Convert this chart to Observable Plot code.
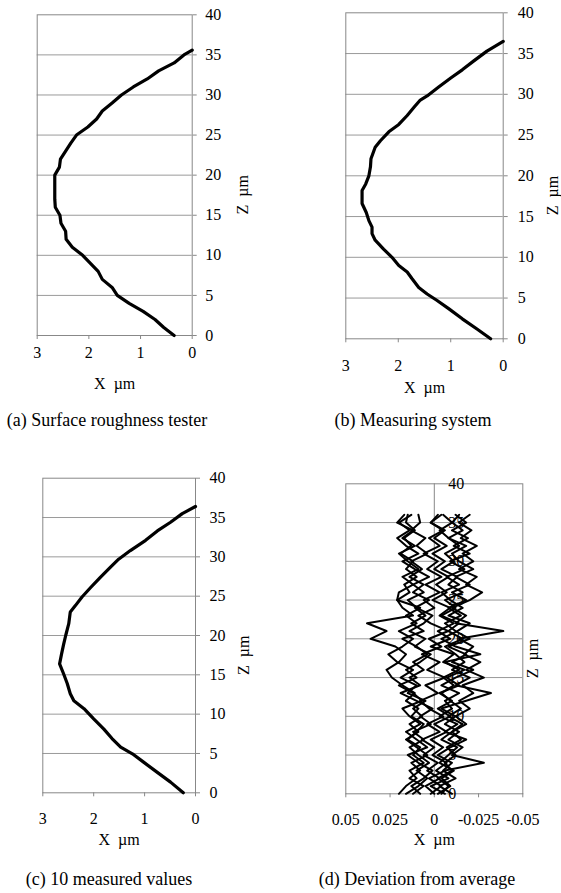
<!DOCTYPE html>
<html><head><meta charset="utf-8">
<script src="https://cdn.jsdelivr.net/npm/d3@7"></script>
<script src="https://cdn.jsdelivr.net/npm/@observablehq/plot@0.6"></script>
<style>
html,body{margin:0;padding:0;background:#fff;overflow:hidden}
#page{position:relative;width:561px;height:893px;background:#fff;font-family:"Liberation Serif",serif}
#page svg{position:absolute;left:0;top:0}
#page svg text{font-family:"Liberation Serif",serif}
.cap{position:absolute;font-size:18px;line-height:18px;white-space:nowrap;transform:translateX(-50%);color:#000}
</style></head><body><div id="page"></div>
<script>
// ---- data ----
const zTicks = [0,5,10,15,20,25,30,35,40];
const zGrid = [5,10,15,20,25,30,35];
const xTicksABC = [3,2,1,0];
const xTicksD = [0.05,0.025,0,-0.025,-0.05];
const captions = ["(a) Surface roughness tester","(b) Measuring system","(c) 10 measured values","(d) Deviation from average"];
const zLabel = "Z\u00a0\u00a0µm";
const xLabel = "X\u00a0\u00a0µm";

// (a) Surface roughness tester
const aZ = [0,1,2,3,4,5,6,7,8,9,10,11,12,13,14,15,16,17,18,19,20,21,22,23,24,25,26,27,28,29,30,31,32,33,34,35,35.6];
const aX = [0.35,0.55,0.72,0.95,1.22,1.45,1.55,1.74,1.82,1.97,2.12,2.32,2.44,2.45,2.54,2.56,2.65,2.66,2.66,2.66,2.66,2.57,2.55,2.45,2.35,2.24,2.02,1.85,1.74,1.55,1.37,1.14,0.87,0.65,0.35,0.16,0];
// (b) Measuring system
const bZ = [0,1.2,2.45,3.7,4.7,5.5,6.3,7.4,8.2,9,10,11,12.1,12.9,13.7,14.5,15.5,16.6,18.2,19,20,21.1,22.1,23.5,24.3,25.4,26.3,27.4,28.4,29.3,29.8,30.9,32,33,34.1,35.3,36.5];
const bX = [0.24,0.5,0.78,1.04,1.26,1.45,1.61,1.74,1.83,1.99,2.12,2.28,2.44,2.5,2.5,2.56,2.61,2.69,2.69,2.62,2.56,2.53,2.52,2.44,2.34,2.18,1.99,1.83,1.7,1.58,1.45,1.23,1.0,0.78,0.56,0.31,0];
// (c) 10 measured values
const cZ = [0,1.36,2.6,3.9,4.96,5.8,6.9,8.1,9.4,10.7,11.7,12.6,13.9,15.1,16.4,17.7,18.9,20,21.5,23,23.8,24.9,26.1,27.4,28.7,29.7,30.8,32.1,33.3,34.4,35.5,36.4];
const cX = [0.24,0.49,0.75,1.02,1.24,1.47,1.64,1.8,2.0,2.19,2.39,2.46,2.52,2.59,2.67,2.63,2.59,2.55,2.49,2.46,2.36,2.23,2.06,1.87,1.67,1.51,1.28,0.98,0.75,0.49,0.26,0];
// (d) Deviation from average, 10 measurements
const devZ = [0,1,2,3,4,5,6,7,8,9,10,11,12,13,14,15,16,17,18,19,20,21,22,23,24,25,26,27,28,29,30,31,32,33,34,35,36];
const dev1 = [-0.004,-0.008,-0.002,-0.010,-0.006,-0.012,-0.007,-0.015,-0.010,-0.018,-0.012,-0.020,-0.014,-0.022,-0.016,-0.028,-0.018,-0.026,-0.017,-0.022,-0.014,-0.039,-0.012,-0.018,-0.010,-0.020,-0.027,-0.018,-0.024,-0.014,-0.022,-0.016,-0.024,-0.015,-0.021,-0.014,-0.020];
const dev2 = [0.020,0.016,0.010,0.014,0.006,0.012,0.008,0.015,0.010,0.006,0.013,0.009,0.016,0.011,0.018,0.024,0.027,0.020,0.016,0.022,0.036,0.027,0.038,0.012,0.018,0.021,0.014,0.017,0.010,0.016,0.012,0.019,0.013,0.017,0.011,0.016,0.015];
const dev3 = [0.002,-0.004,0.003,-0.006,-0.028,-0.010,-0.016,-0.008,-0.014,-0.006,-0.012,-0.004,-0.018,-0.032,-0.012,-0.020,-0.010,-0.017,-0.012,-0.006,-0.016,-0.008,-0.014,-0.004,-0.012,-0.006,-0.016,-0.008,-0.013,-0.004,-0.011,-0.006,-0.014,-0.008,-0.003,-0.010,-0.005];
const dev4 = [0.012,0.006,0.014,0.008,0.013,0.004,0.010,0.016,0.009,0.014,0.007,0.012,0.005,0.015,0.010,0.019,0.012,0.021,0.026,0.018,0.012,0.020,0.010,0.016,0.008,0.021,0.020,0.012,0.018,0.009,0.015,0.020,0.011,0.018,0.012,0.021,0.017];
const dev5 = [0.000,0.005,-0.003,0.004,-0.002,0.006,0.000,0.007,-0.003,0.004,-0.005,0.003,0.008,-0.002,0.005,-0.006,0.004,-0.003,0.007,-0.004,0.003,-0.008,0.002,0.009,0.000,0.006,-0.003,0.005,-0.004,0.004,-0.002,0.006,-0.003,0.003,-0.005,0.002,-0.002];
const dev6 = [-0.010,-0.003,-0.012,-0.005,-0.010,-0.002,-0.009,-0.018,-0.006,-0.013,-0.003,-0.010,-0.006,-0.014,-0.004,-0.012,-0.022,-0.010,-0.018,-0.008,-0.020,-0.012,-0.006,-0.015,-0.008,-0.018,-0.010,-0.020,-0.012,-0.022,-0.014,-0.010,-0.018,-0.008,-0.016,-0.010,-0.014];
const dev7 = [0.016,0.009,0.004,0.010,0.003,0.009,0.014,0.006,0.012,0.002,0.008,0.001,0.010,0.019,0.008,0.014,0.006,0.012,0.004,0.010,0.018,0.006,0.013,0.005,0.011,0.003,0.012,0.006,0.014,0.007,0.013,0.004,0.010,0.005,0.013,0.008,0.009];
const dev8 = [-0.002,-0.009,-0.004,-0.011,-0.003,-0.008,-0.013,-0.004,-0.010,-0.016,-0.008,-0.015,-0.009,-0.004,-0.011,-0.005,-0.014,-0.006,-0.026,-0.012,-0.004,-0.013,-0.020,-0.008,-0.016,-0.009,-0.004,-0.014,-0.007,-0.017,-0.009,-0.020,-0.011,-0.019,-0.010,-0.018,-0.012];
const dev9 = [0.008,0.013,0.006,0.001,0.009,0.015,0.004,0.010,0.016,0.008,0.014,0.018,0.007,0.012,0.020,0.010,0.016,0.008,0.002,0.011,0.005,0.014,0.006,0.001,0.010,0.015,0.006,0.012,0.003,0.011,0.018,0.009,0.016,0.021,0.014,0.020,0.013];
const dev10 = [-0.006,0.002,-0.008,-0.001,-0.007,0.001,-0.005,0.002,-0.007,0.000,-0.009,-0.002,-0.010,-0.003,-0.014,-0.007,-0.017,-0.005,-0.011,0.002,-0.009,-0.002,-0.011,-0.003,-0.009,0.001,-0.007,-0.001,-0.008,0.000,-0.006,0.001,-0.007,0.000,-0.006,0.002,-0.004];
const devSeries = [dev1,dev2,dev3,dev4,dev5,dev6,dev7,dev8,dev9,dev10];

// ---- layout / style ----
const W = 561, H = 893;
const FRAME = "#888", GRID = "#9a9a9a";
const FONT = "Liberation Serif";
const page = document.getElementById("page");

function makePlot(frame, xDomain, marks) {
  const [L,R,T,B] = frame;
  return Plot.plot({
    width: W, height: H,
    marginLeft: L, marginRight: W - R, marginTop: T, marginBottom: H - B,
    x: {domain: xDomain, axis: null},
    y: {domain: [0, 40], axis: null},
    style: {fontFamily: FONT, fontSize: "16px", background: "transparent", overflow: "visible", color: "#000"},
    marks
  });
}

const txt = {fontSize: 16, fontFamily: FONT};

function profilePanel(frame, xs, zs, opt) {
  return makePlot(frame, [3, 0], [
    Plot.gridY(zGrid, {stroke: GRID, strokeOpacity: 1}),
    Plot.frame({stroke: FRAME}),
    Plot.axisY(zTicks, {anchor: "right", tickSize: 4, tickPadding: opt.yPad, stroke: FRAME, label: null, ...txt}),
    Plot.axisX(xTicksABC, {anchor: "bottom", tickSize: 4, tickPadding: opt.xPad, stroke: FRAME, label: null, ...txt}),
    Plot.text([zLabel], {text: d => d, frameAnchor: "right", rotate: -90, dx: opt.zDx, ...txt}),
    Plot.text([xLabel], {text: d => d, frameAnchor: "bottom", dy: opt.xDy, ...txt}),
    Plot.line(zs, {x: xs, y: zs, stroke: "#000", strokeWidth: 3.2})
  ]);
}

page.appendChild(profilePanel([36.7, 191.7, 14.3, 335], aX, aZ, {yPad: 9, xPad: 7, zDx: 50.5, xDy: 53}));
page.appendChild(profilePanel([345.3, 502.7, 12.3, 338.3], bX, bZ, {yPad: 10.5, xPad: 17, zDx: 50, xDy: 54}));
page.appendChild(profilePanel([42.3, 195, 477.7, 792.3], cX, cZ, {yPad: 10, xPad: 16, zDx: 48.5, xDy: 52}));

page.appendChild(makePlot([345.3, 522.3, 483.3, 793.3], [0.05, -0.05], [
  Plot.gridY(zGrid, {stroke: GRID, strokeOpacity: 1}),
  Plot.frame({stroke: FRAME}),
  Plot.ruleX([0], {stroke: FRAME}),
  Plot.text(zTicks, {x: 0, y: d => d, text: d => String(d), textAnchor: "start", dx: 14, ...txt}),
  Plot.axisX(xTicksD, {anchor: "bottom", tickSize: 4, tickPadding: 15.5, stroke: FRAME, label: null, tickFormat: d => String(d), ...txt}),
  Plot.text([zLabel], {text: d => d, frameAnchor: "right", rotate: -90, dx: 10.5, ...txt}),
  Plot.text([xLabel], {text: d => d, frameAnchor: "bottom", dy: 51.5, ...txt}),
  ...devSeries.map(s => Plot.line(devZ, {x: s, y: devZ, stroke: "#000", strokeWidth: 2}))
]));

// captions
const capPos = [[107, 411], [413, 411], [109, 870], [417, 870]];
captions.forEach((t, i) => {
  const d = document.createElement("div");
  d.className = "cap";
  d.textContent = t;
  d.style.left = capPos[i][0] + "px";
  d.style.top = capPos[i][1] + "px";
  page.appendChild(d);
});
</script></body></html>
